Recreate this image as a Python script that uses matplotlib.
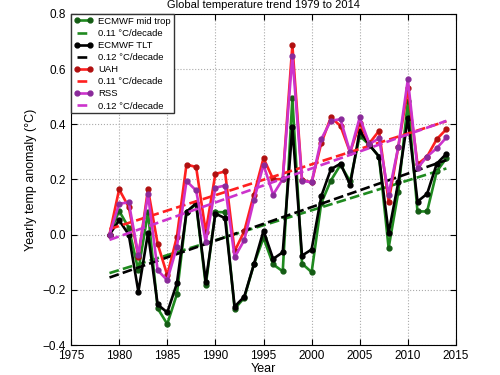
import numpy as np
import matplotlib
matplotlib.use("Agg")
import matplotlib.pyplot as plt

plt.rcParams['font.family'] = ['Liberation Sans', 'DejaVu Sans']

years = np.arange(1979, 2015)

ecmwf_mid = [0.0, 0.086, 0.025, -0.13, 0.082, -0.267, -0.324, -0.216, 0.082, 0.11,
             -0.183, 0.082, 0.081, -0.269, -0.229, -0.108, -0.012, -0.108, -0.133, 0.494,
             -0.105, -0.136, 0.114, 0.196, 0.253, 0.193, 0.358, 0.325, 0.283, -0.048,
             0.153, 0.484, 0.084, 0.084, 0.229, 0.277]
ecmwf_tlt = [0.0, 0.052, 0.0, -0.207, 0.006, -0.253, -0.282, -0.177, 0.082, 0.114,
             -0.171, 0.076, 0.06, -0.261, -0.225, -0.108, 0.014, -0.088, -0.064, 0.389,
             -0.076, -0.054, 0.139, 0.237, 0.257, 0.181, 0.377, 0.325, 0.283, 0.006,
             0.189, 0.422, 0.12, 0.148, 0.257, 0.293]
uah = [0.0, 0.164, 0.10, -0.08, 0.164, -0.033, -0.147, -0.008, 0.254, 0.245,
       0.01, 0.22, 0.229, -0.06, 0.012, 0.145, 0.277, 0.201, 0.201, 0.687,
       0.199, 0.189, 0.331, 0.425, 0.394, 0.298, 0.404, 0.331, 0.376, 0.12,
       0.317, 0.53, 0.255, 0.283, 0.346, 0.382]
rss = [0.0, 0.112, 0.117, -0.075, 0.146, -0.129, -0.165, -0.045, 0.194, 0.16,
       -0.027, 0.17, 0.178, -0.082, -0.02, 0.124, 0.253, 0.145, 0.201, 0.647,
       0.196, 0.189, 0.346, 0.413, 0.418, 0.298, 0.425, 0.328, 0.349, 0.145,
       0.317, 0.563, 0.241, 0.283, 0.313, 0.352]

series = [
    (ecmwf_mid, 'ECMWF mid trop', '#1f8a1f', '#145c14', '0.11 \u00b0C/decade'),
    (ecmwf_tlt, 'ECMWF TLT', 'k', 'k', '0.12 \u00b0C/decade'),
    (uah, 'UAH', '#ff2020', '#b01010', '0.11 \u00b0C/decade'),
    (rss, 'RSS', '#cc33cc', '#8a2a9a', '0.12 \u00b0C/decade'),
]

fig = plt.figure(figsize=(5, 3.75), dpi=100)
ax = fig.add_axes([0.142, 0.08, 0.77, 0.883])

for vals, name, col, mec, trend_lbl in series:
    ax.plot(years, vals, '-o', color=col, lw=1.9, ms=3.5, mfc=mec, mec=mec, label=name)
    p = np.polyfit(years, vals, 1)
    ax.plot(years, np.polyval(p, years), '--', color=col, lw=1.9, label=trend_lbl)

ax.set_xlim(1975, 2015)
ax.set_ylim(-0.4, 0.8)
ax.set_xticks(np.arange(1975, 2016, 5))
ax.set_yticks(np.arange(-0.4, 0.81, 0.2))
ax.set_yticklabels(['\u22120.4', '\u22120.2', '0.0', '0.2', '0.4', '0.6', '0.8'])
ax.tick_params(direction='in', top=True, right=True, labelsize=8.5, length=4)
ax.grid(True, linestyle=':', color='#aaaaaa', lw=0.8)
ax.set_xlabel('Year', fontsize=9, labelpad=1)
ax.set_ylabel('Yearly temp anomaly (\u00b0C)', fontsize=9)
ax.set_title('Global temperature trend 1979 to 2014', fontsize=8, pad=4)

leg = ax.legend(loc='upper left', fontsize=6.8, numpoints=2, handlelength=2.0,
                fancybox=False, framealpha=1, edgecolor='#333333', borderpad=0.3,
                labelspacing=0.33, handletextpad=0.6, borderaxespad=0)
leg.get_frame().set_linewidth(1.0)

fig.savefig('out.png', dpi=100)
